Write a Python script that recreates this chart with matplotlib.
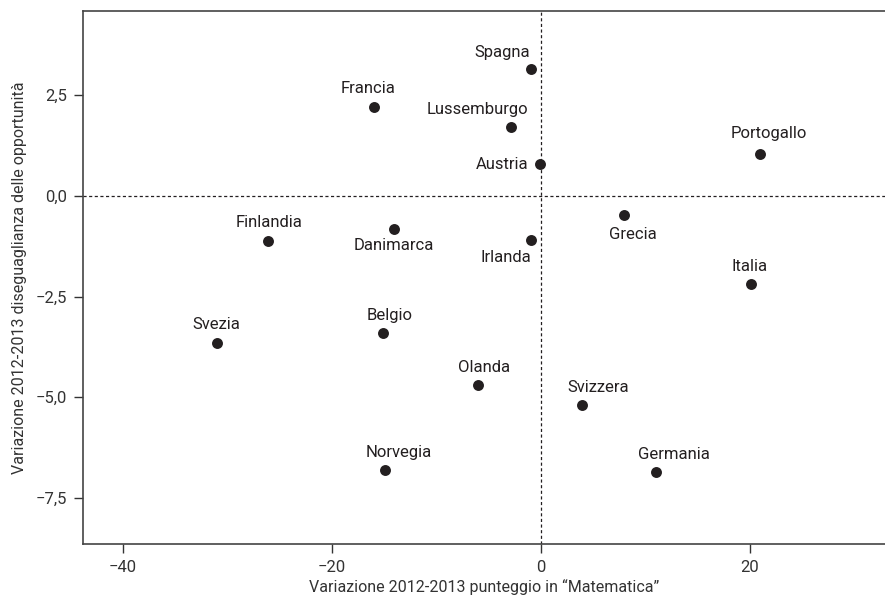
import matplotlib.pyplot as plt
from matplotlib.ticker import FuncFormatter

paesi = ["Spagna", "Francia", "Lussemburgo", "Austria", "Portogallo", "Grecia",
         "Finlandia", "Danimarca", "Irlanda", "Italia", "Svezia", "Belgio",
         "Norvegia", "Olanda", "Svizzera", "Germania"]
var_matematica = [-1.0, -16.0, -2.9, -0.1, 20.9, 7.9,
                  -26.1, -14.1, -1.0, 20.1, -31.0, -15.1,
                  -14.9, -6.0, 3.9, 11.0]
var_disuguaglianza = [3.14, 2.21, 1.70, 0.78, 1.04, -0.48,
                      -1.12, -0.82, -1.10, -2.19, -3.66, -3.41,
                      -6.81, -4.70, -5.20, -6.86]

# posizione delle etichette (pixel rispetto al punto, allineamento orizzontale)
etichette = {
    "Spagna": (-1, 17, "right"),
    "Francia": (-6, 18, "center"),
    "Lussemburgo": (18, 18, "right"),
    "Austria": (-11, 0, "right"),
    "Portogallo": (9, 20, "center"),
    "Grecia": (9, -19, "center"),
    "Finlandia": (1, 18, "center"),
    "Danimarca": (0, -17, "center"),
    "Irlanda": (1, -17, "right"),
    "Italia": (-2, 18, "center"),
    "Svezia": (-1, 19, "center"),
    "Belgio": (7, 18, "center"),
    "Norvegia": (14, 18, "center"),
    "Olanda": (6, 18, "center"),
    "Svizzera": (16, 18, "center"),
    "Germania": (18, 18, "center"),
}

plt.rcParams['font.family'] = ['Roboto', 'DejaVu Sans']
col = "#231f20"

fig = plt.figure(figsize=(8.85, 6.01), dpi=100)
ax = fig.add_axes([83 / 885, 1 - 544 / 601, 1 - 83 / 885, (544 - 10.5) / 601])

ax.axhline(0, color=col, lw=0.9, ls=(0, (2.5, 2)), zorder=1)
ax.axvline(0, color=col, lw=0.9, ls=(0, (2.5, 2)), zorder=1)
ax.scatter(var_matematica, var_disuguaglianza, s=62, color=col, zorder=3, linewidths=0)

for nome, x, y in zip(paesi, var_matematica, var_disuguaglianza):
    dx, dy, ha = etichette[nome]
    ax.annotate(nome, (x, y), xytext=(dx, dy), textcoords='offset pixels',
                ha=ha, va='center', fontsize=12, color=col)

ax.set_xlim(-43.8, 32.9)
ax.set_ylim(-8.64, 4.6)
ax.set_xticks([-40, -20, 0, 20])
ax.set_yticks([2.5, 0, -2.5, -5, -7.5])
ax.xaxis.set_major_formatter(FuncFormatter(lambda v, p: f"{v:.0f}".replace("-", "\u2212")))
ax.yaxis.set_major_formatter(FuncFormatter(lambda v, p: f"{v:.1f}".replace(".", ",").replace("-", "\u2212")))
ax.tick_params(length=6.5, width=1, color="#333333", labelsize=12, labelcolor="#333333", pad=5)

ax.spines['right'].set_visible(False)
for s in ['left', 'top', 'bottom']:
    ax.spines[s].set_color("#444444")
    ax.spines[s].set_linewidth(1.2)

ax.set_xlabel("Variazione 2012-2013 punteggio in \u201cMatematica\u201d", fontsize=11.5, color="#333333", labelpad=3)
ax.set_ylabel("Variazione 2012-2013 diseguaglianza delle opportunit\u00e0", fontsize=11.5, color="#333333", labelpad=6)

fig.savefig("out.png", dpi=100)
